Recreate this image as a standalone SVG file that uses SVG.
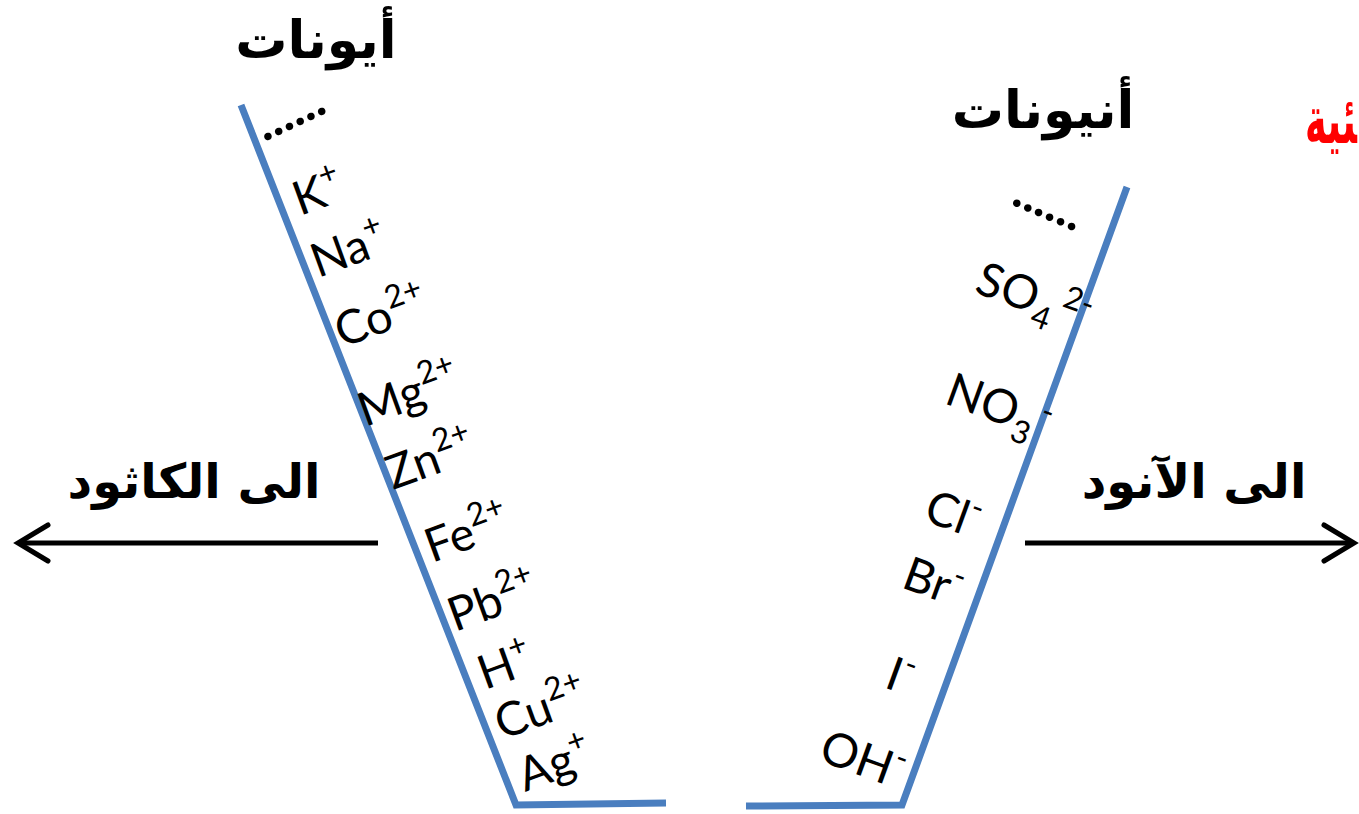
<svg xmlns="http://www.w3.org/2000/svg" width="1359" height="814" viewBox="0 0 1359 814">
<style>
.ar{font-family:"DejaVu Sans",sans-serif;font-weight:bold;fill:#000;text-anchor:middle}
.ion{font-family:Lato,"Open Sans",sans-serif;font-size:47px;fill:#000}
.sup{font-size:32px}
.dots{font-family:Lato,sans-serif;font-size:50px;font-weight:bold;fill:#000}
.blue{fill:none;stroke:#4a7ebf;stroke-width:7;stroke-linejoin:miter}
.arrow{fill:none;stroke:#000;stroke-width:5}
</style>
<defs>
<marker id="head" markerWidth="10" markerHeight="12" refX="8" refY="6" orient="auto" markerUnits="userSpaceOnUse" viewBox="0 0 10 12" overflow="visible">
<path d="M-22,-12 L8,6 L-22,24" fill="none" stroke="#000" stroke-width="5" stroke-linecap="round" stroke-linejoin="miter"/>
</marker>
</defs>
<rect width="1359" height="814" fill="#fff"/>

<g id="cations-vessel">
<polyline class="blue" points="241,105 516,805 666,803"/>
<text class="dots" transform="translate(264,142) rotate(-25)">......</text>
</g>
<g id="anions-vessel">
<polyline class="blue" points="1127,187 902,805 746,806"/>
<text class="dots" transform="translate(1010,204) rotate(23)">......</text>
</g>

<g id="title-cations"><text class="ar" x="316" y="58" font-size="52">أيونات</text></g>
<g id="title-anions"><text class="ar" x="1043" y="128" font-size="52">أنيونات</text></g>
<g id="title-red"><text x="1357" y="143" font-family="DejaVu Sans,sans-serif" font-weight="bold" font-size="66" fill="#f00" text-anchor="end" direction="ltr" textLength="52" lengthAdjust="spacingAndGlyphs">&#x200D;ئية</text></g>

<g id="cations">
<text class="ion" transform="translate(300,216) rotate(-20)">K<tspan class="sup" dy="-20">+</tspan></text>
<text class="ion" transform="translate(318,278) rotate(-20)">Na<tspan class="sup" dy="-20">+</tspan></text>
<text class="ion" transform="translate(342,348) rotate(-20)">Co<tspan class="sup" dy="-20">2+</tspan></text>
<text class="ion" transform="translate(365,427) rotate(-20)">Mg<tspan class="sup" dy="-20">2+</tspan></text>
<text class="ion" transform="translate(393,490) rotate(-20)">Zn<tspan class="sup" dy="-20">2+</tspan></text>
<text class="ion" transform="translate(432,563) rotate(-20)">Fe<tspan class="sup" dy="-20">2+</tspan></text>
<text class="ion" transform="translate(455,632) rotate(-20)">Pb<tspan class="sup" dy="-20">2+</tspan></text>
<text class="ion" transform="translate(485,690) rotate(-20)">H<tspan class="sup" dy="-20">+</tspan></text>
<text class="ion" transform="translate(502,740) rotate(-20)">Cu<tspan class="sup" dy="-20">2+</tspan></text>
<text class="ion" transform="translate(525,792) rotate(-20)">Ag<tspan class="sup" dy="-20">+</tspan></text>
</g>

<g id="anions">
<text class="ion" transform="translate(973,292) rotate(20)">SO<tspan class="sup" dy="12">4</tspan><tspan class="sup" dx="6" dy="-29">2-</tspan></text>
<text class="ion" transform="translate(943,403) rotate(20)">NO<tspan class="sup" dy="12">3</tspan><tspan class="sup" dx="4" dy="-29">-</tspan></text>
<text class="ion" transform="translate(922,520) rotate(20)">Cl<tspan class="sup" dy="-20">-</tspan></text>
<text class="ion" transform="translate(900,587) rotate(20)">Br<tspan class="sup" dy="-20">-</tspan></text>
<text class="ion" transform="translate(883,687) rotate(20)">I<tspan class="sup" dy="-20">-</tspan></text>
<text class="ion" transform="translate(817,760) rotate(20)">OH<tspan class="sup" dy="-20">-</tspan></text>
</g>

<g id="connectors">
<line class="arrow" x1="378" y1="543" x2="18" y2="543" marker-end="url(#head)"/>
<line class="arrow" x1="1025" y1="543" x2="1354" y2="543" marker-end="url(#head)"/>
</g>

<g id="label-cathode"><text class="ar" x="194" y="498" font-size="48">الى الكاثود</text></g>
<g id="label-anode"><text class="ar" x="1194" y="498" font-size="48">الى الآنود</text></g>
</svg>
